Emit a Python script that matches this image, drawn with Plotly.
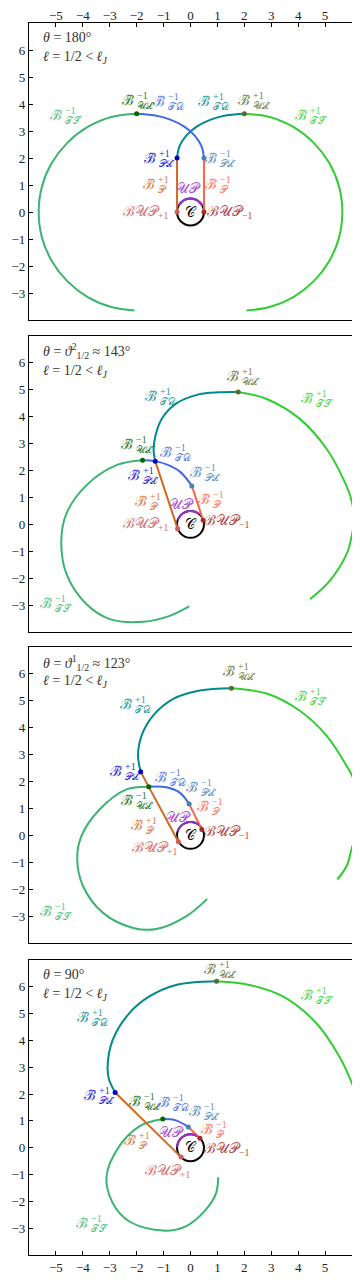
import plotly.graph_objects as go

# ---------------- data ----------------
X_RANGE = [-6, 6]
Y_RANGE = [-4, 7]
X_TICKS = [-5, -4, -3, -2, -1, 0, 1, 2, 3, 4, 5]
Y_TICKS = [-3, -2, -1, 0, 1, 2, 3, 4, 5, 6]
C_RADIUS = 0.5

THETA_TEXT = ["<i>θ</i> = 180°",
              "<i>θ</i> = <i>ϑ</i><sup>2</sup><sub>1/2</sub> ≈ 143°",
              "<i>θ</i> = <i>ϑ</i><sup>1</sup><sub>1/2</sub> ≈ 123°",
              "<i>θ</i> = 90°"]
ELL_TEXT = "<i>ℓ</i> = 1/2 &lt; <i>ℓ</i><sub><i>J</i></sub>"

# key points per panel: BUP+1, BUP-1, PL+1, PL-1, UL+1, UL-1
P1_PTS = {"BUP_P": (-0.5, 0.0), "BUP_M": (0.5, 0.0), "PL_P": (-0.5, 2.0),
          "PL_M": (0.5, 2.0), "UL_P": (2.0, 3.64), "UL_M": (-2.0, 3.64)}
P2_PTS = {"BUP_P": (-0.48, -0.16), "BUP_M": (0.47, 0.15), "PL_P": (-1.31, 2.35),
          "PL_M": (0.05, 1.43), "UL_P": (1.77, 4.92), "UL_M": (-1.78, 2.38)}
P3_PTS = {"BUP_P": (-0.45, -0.24), "BUP_M": (0.42, 0.22), "PL_P": (-1.85, 2.36),
          "PL_M": (-0.05, 1.17), "UL_P": (1.52, 5.47), "UL_M": (-1.55, 1.81)}
P4_PTS = {"BUP_P": (-0.35, -0.35), "BUP_M": (0.35, 0.35), "PL_P": (-2.8, 2.06),
          "PL_M": (-0.08, 0.77), "UL_P": (0.97, 6.21), "UL_M": (-1.03, 1.07)}

# UP arcs (on the circle C)
P1_UP = [(-0.446, 0.227), (-0.25, 0.433), (0.0, 0.5), (0.25, 0.433), (0.446, 0.227)]
P2_UP = [(-0.467, 0.179), (-0.301, 0.399), (-0.044, 0.498), (0.155, 0.476), (0.321, 0.383)]
P3_UP = [(-0.476, 0.155), (-0.321, 0.383), (-0.087, 0.492), (0.129, 0.483), (0.308, 0.394)]
P4_UP = [(-0.5, 0.017), (-0.433, 0.25), (-0.25, 0.433), (0.0, 0.5), (0.227, 0.446)]

# Panel 1 curves
P1_TD_P = [(-0.5, 2.0), (-0.415, 2.42), (-0.165, 2.82), (0.23, 3.16), (0.75, 3.42), (1.35, 3.58), (2.0, 3.64)]
P1_TD_M = [(0.5, 2.0), (0.415, 2.42), (0.165, 2.82), (-0.23, 3.16), (-0.75, 3.42), (-1.35, 3.58), (-2.0, 3.64)]
P1_TS_P = [(2.0, 3.64), (2.94, 3.52), (3.82, 3.15), (4.57, 2.57), (5.15, 1.82), (5.52, 0.94), (5.64, 0.0),
           (5.52, -0.94), (5.15, -1.82), (4.57, -2.57), (3.82, -3.15), (2.94, -3.52), (2.08, -3.65)]
P1_TS_M = [(-2.0, 3.64), (-2.94, 3.52), (-3.82, 3.15), (-4.57, 2.57), (-5.15, 1.82), (-5.52, 0.94), (-5.64, 0.0),
           (-5.52, -0.94), (-5.15, -1.82), (-4.57, -2.57), (-3.82, -3.15), (-2.94, -3.52), (-2.08, -3.65)]

# Panel 2 curves
P2_TD_P = [(-1.31, 2.35), (-1.37, 2.75), (-1.3, 3.3), (-1.05, 3.95), (-0.55, 4.48), (0.3, 4.83), (1.05, 4.91), (1.77, 4.92)]
P2_TD_M = [(0.05, 1.43), (-0.38, 1.95), (-0.82, 2.2), (-1.31, 2.35), (-1.78, 2.38)]
P2_TS_P = [(1.77, 4.92), (2.83, 4.66), (4.06, 3.92), (5.06, 2.8), (5.74, 1.55), (5.98, 0.9), (6.08, 0.2),
           (5.98, -0.47), (5.8, -1.1), (5.18, -2.09), (4.44, -2.78)]
P2_TS_M = [(-1.78, 2.38), (-2.75, 2.2), (-3.87, 1.45), (-4.61, 0.4), (-4.8, -0.6), (-4.61, -1.84), (-3.87, -2.96),
           (-3.0, -3.52), (-1.76, -3.62), (-0.77, -3.4), (-0.05, -3.05)]

# Panel 3 curves
P3_TD_P = [(-1.85, 2.36), (-1.95, 2.96), (-1.82, 3.7), (-1.39, 4.45), (-0.64, 5.07), (0.35, 5.38), (1.52, 5.47)]
P3_TD_M = [(-0.05, 1.17), (-0.4, 1.59), (-0.89, 1.79), (-1.55, 1.81)]
P3_TS_P = [(1.52, 5.47), (2.83, 5.27), (4.06, 4.63), (5.06, 3.7), (5.8, 2.58), (6.05, 2.1), (6.25, 1.2),
           (6.25, 0.3), (6.0, -0.45), (5.8, -1.14), (5.45, -1.64)]
P3_TS_M = [(-1.55, 1.81), (-2.38, 1.71), (-3.37, 0.97), (-4.05, -0.02), (-4.21, -0.89), (-3.99, -1.89),
           (-3.25, -2.88), (-2.13, -3.44), (-1.26, -3.48), (-0.15, -3.0), (0.62, -2.36)]

# Panel 4 curves
P4_TD_P = [(-2.8, 2.06), (-3.03, 2.55), (-3.08, 3.03), (-2.89, 4.02), (-2.27, 5.02), (-1.53, 5.64),
           (-0.54, 6.07), (0.97, 6.21)]
P4_TD_M = [(-0.08, 0.77), (-0.54, 1.02), (-1.03, 1.07)]
P4_TS_P = [(0.97, 6.21), (2.19, 6.07), (3.43, 5.64), (4.67, 4.65), (5.53, 3.4), (5.97, 2.47), (6.3, 1.5), (6.4, 0.5)]
P4_TS_M = [(-1.03, 1.07), (-1.9, 0.8), (-2.65, 0.05), (-3.12, -1.07), (-2.89, -2.06), (-2.27, -2.75),
           (-1.03, -3.09), (-0.17, -2.93), (0.57, -2.31), (0.95, -1.69), (1.03, -1.1)]

# ---------------- styles ----------------
COL = {
    "TS_M": "#3cb371", "TS_P": "#32cd32", "TD_P": "#008b8b", "TD_M": "#4169e1",
    "UL_M": "#006400", "UL_P": "#556b2f", "PL_P": "#0000cd", "PL_M": "#4682b4",
    "P_P": "#d2691e", "P_M": "#ff6347", "UP": "#9932cc", "BUP_P": "#cd5c5c",
    "BUP_M": "#a52a2a", "C": "#000000",
}
FONT = "Liberation Serif"
LW = 2

# layout geometry (pixels, figure coordinates; page adds an 8px body margin)
W, H = 352, 1272
ML, MR, MT, MB = 21, 8, 15, 25
PANEL_PX = [(15, 312), (328, 624), (639, 935), (952, 1247)]

# label pieces: base glyph, superscript, subscript
SCRIPT = {
    "TS_M": ("−1", "𝒯𝒮"), "TS_P": ("+1", "𝒯𝒮"),
    "TD_M": ("−1", "𝒯𝒟"), "TD_P": ("+1", "𝒯𝒟"),
    "UL_M": ("−1", "𝒰ℒ"), "UL_P": ("+1", "𝒰ℒ"),
    "PL_M": ("−1", "𝒫ℒ"), "PL_P": ("+1", "𝒫ℒ"),
    "P_M": ("−1", "𝒫"), "P_P": ("+1", "𝒫"),
}
PLAIN = {"UP": "𝒰𝒫", "BUP_P": "ℬ𝒰𝒫<sub>+1</sub>", "BUP_M": "ℬ𝒰𝒫<sub>−1</sub>", "C": "𝒞"}

LABELS = [
    {"TS_M": (-4.67, 3.55), "UL_M": (-2.0, 4.1), "TD_M": (-0.83, 4.05), "TD_P": (0.84, 4.05),
     "UL_P": (2.33, 4.1), "TS_P": (4.44, 3.55), "PL_P": (-1.16, 1.96), "PL_M": (1.09, 1.96),
     "P_P": (-1.2, 0.97), "UP": (-0.09, 0.88), "P_M": (1.09, 0.97), "BUP_P": (-1.64, 0.0),
     "BUP_M": (1.46, 0.0), "C": (0.0, 0.0)},
    {"UL_P": (1.93, 5.44), "TD_P": (-1.14, 4.73), "TS_P": (4.68, 4.63), "UL_M": (-2.03, 2.93),
     "TD_M": (-0.56, 2.64), "PL_M": (0.53, 1.89), "PL_P": (-1.76, 1.77), "P_P": (-1.51, 0.83),
     "UP": (-0.33, 0.73), "P_M": (0.84, 0.9), "BUP_P": (-1.64, 0.0), "BUP_M": (1.34, 0.09),
     "TS_M": (-5.04, -2.99), "C": (0.0, 0.0)},
    {"UL_P": (1.77, 6.06), "TS_P": (4.44, 5.13), "TD_P": (-2.07, 4.82), "PL_P": (-2.44, 2.34),
     "TD_M": (-0.77, 2.11), "PL_M": (0.38, 1.74), "UL_M": (-2.01, 1.25), "P_M": (0.78, 1.03),
     "UP": (-0.46, 0.68), "P_P": (-1.67, 0.32), "BUP_M": (1.34, 0.12), "BUP_P": (-1.33, -0.5),
     "TS_M": (-5.04, -2.86), "C": (0.0, 0.0)},
    {"UL_P": (1.07, 6.61), "TS_P": (4.67, 5.64), "TD_P": (-3.66, 4.83), "PL_P": (-3.39, 1.91),
     "UL_M": (-1.74, 1.69), "TD_M": (-0.64, 1.64), "PL_M": (0.5, 1.33), "P_M": (0.95, 0.66),
     "UP": (-0.72, 0.55), "P_P": (-1.93, 0.24), "BUP_M": (1.34, -0.05), "BUP_P": (-0.85, -0.88),
     "TS_M": (-3.7, -2.87), "C": (0.0, 0.0)},
]
TEXT_Y = [(6.46, 5.73), (6.44, 5.69), (6.41, 5.71), (6.45, 5.73)]

PANELS = [
    (P1_PTS, P1_UP, P1_TD_P, P1_TD_M, P1_TS_P, P1_TS_M),
    (P2_PTS, P2_UP, P2_TD_P, P2_TD_M, P2_TS_P, P2_TS_M),
    (P3_PTS, P3_UP, P3_TD_P, P3_TD_M, P3_TS_P, P3_TS_M),
    (P4_PTS, P4_UP, P4_TD_P, P4_TD_M, P4_TS_P, P4_TS_M),
]

# ---------------- build figure ----------------
fig = go.Figure()
plot_h = H - MT - MB
annotations = []
shapes = []

for i, (pts, up, tdp, tdm, tsp, tsm) in enumerate(PANELS):
    n = i + 1
    xa = "x" if n == 1 else f"x{n}"
    ya = "y" if n == 1 else f"y{n}"

    def add_line(seq, color, shape="spline"):
        fig.add_trace(go.Scatter(
            x=[p[0] for p in seq], y=[p[1] for p in seq], mode="lines",
            line=dict(color=color, width=LW, shape=shape, smoothing=1.0),
            xaxis=xa, yaxis=ya, showlegend=False, hoverinfo="skip"))

    add_line(tsm, COL["TS_M"])
    add_line(tsp, COL["TS_P"])
    add_line(tdp, COL["TD_P"])
    add_line(tdm, COL["TD_M"])
    add_line([pts["BUP_P"], pts["PL_P"]], COL["P_P"], "linear")
    add_line([pts["BUP_M"], pts["PL_M"]], COL["P_M"], "linear")
    add_line(up, COL["UP"])

    # circle C
    shapes.append(dict(type="circle", xref=xa, yref=ya,
                       x0=-C_RADIUS, x1=C_RADIUS, y0=-C_RADIUS, y1=C_RADIUS,
                       line=dict(color=COL["C"], width=LW), layer="below"))

    keys = ["BUP_P", "BUP_M", "PL_P", "PL_M", "UL_P", "UL_M"]
    fig.add_trace(go.Scatter(
        x=[pts[k][0] for k in keys], y=[pts[k][1] for k in keys], mode="markers",
        marker=dict(color=[COL[k] for k in keys], size=5),
        xaxis=xa, yaxis=ya, showlegend=False, hoverinfo="skip"))

    for key, (lx, ly) in LABELS[i].items():
        col = COL[key]
        op = 0.85 if key != "C" else 1.0
        if key in SCRIPT:
            sup, sub = SCRIPT[key]
            annotations.append(dict(
                x=lx, y=ly, xref=xa, yref=ya, text="ℬ\u0303", showarrow=False,
                font=dict(family=FONT, size=14, color=col), opacity=op,
                xanchor="right", yanchor="middle", xshift=-1, yshift=1))
            annotations.append(dict(
                x=lx, y=ly, xref=xa, yref=ya, text=sup, showarrow=False,
                font=dict(family=FONT, size=10, color=col), opacity=op,
                xanchor="left", yanchor="middle", xshift=-2, yshift=6))
            annotations.append(dict(
                x=lx, y=ly, xref=xa, yref=ya, text=sub, showarrow=False,
                font=dict(family=FONT, size=10, color=col), opacity=op,
                xanchor="left", yanchor="middle", xshift=-2, yshift=-4))
        else:
            annotations.append(dict(
                x=lx, y=ly, xref=xa, yref=ya, text=PLAIN[key], showarrow=False,
                font=dict(family=FONT, size=14, color=col), opacity=op,
                xanchor="center", yanchor="middle"))

    ty1, ty2 = TEXT_Y[i]
    annotations.append(dict(x=-5.55, y=ty1, xref=xa, yref=ya, text=THETA_TEXT[i],
                            showarrow=False, xanchor="left", yanchor="middle",
                            font=dict(family=FONT, size=14, color="#333333")))
    annotations.append(dict(x=-5.55, y=ty2, xref=xa, yref=ya, text=ELL_TEXT,
                            showarrow=False, xanchor="left", yanchor="middle",
                            font=dict(family=FONT, size=14, color="#333333")))

    top_px, bot_px = PANEL_PX[i]
    dom = [(H - MB - bot_px) / plot_h, (H - MB - top_px) / plot_h]

    xcfg = dict(range=X_RANGE, domain=[0, 1], showgrid=False, zeroline=False,
                showline=True, mirror=True, linecolor="black", linewidth=1.2,
                anchor=ya, tickvals=X_TICKS, ticks="", showticklabels=False,
                automargin=False,
                tickfont=dict(family=FONT, size=13, color="#222222"))
    if n == 1:
        xcfg.update(side="top", ticks="inside", ticklen=4, tickcolor="black",
                    showticklabels=True, ticklabelstandoff=-3)
    if n == 4:
        xcfg.update(side="bottom", ticks="inside", ticklen=4, tickcolor="black", showticklabels=True)
    ycfg = dict(range=Y_RANGE, domain=dom, showgrid=False, zeroline=False,
                showline=True, mirror=True, linecolor="black", linewidth=1.2,
                anchor=xa, tickvals=Y_TICKS, ticks="inside", ticklen=4, tickcolor="black",
                automargin=False,
                tickfont=dict(family=FONT, size=13, color="#222222"))
    fig.update_layout({("xaxis" if n == 1 else f"xaxis{n}"): xcfg,
                       ("yaxis" if n == 1 else f"yaxis{n}"): ycfg})

fig.update_layout(width=W, height=H, margin=dict(l=ML, r=MR, t=MT, b=MB, autoexpand=False),
                  paper_bgcolor="white", plot_bgcolor="white",
                  annotations=annotations, shapes=shapes, showlegend=False)

fig.write_html("out.html")
